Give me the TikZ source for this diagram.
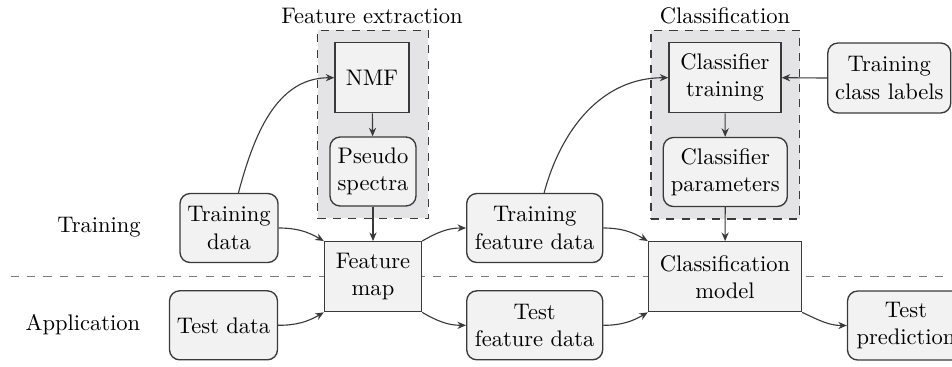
\documentclass[tikz,border=0pt]{standalone}
\usetikzlibrary{arrows.meta,fit,backgrounds}
\newlength\pxu
\setlength\pxu{0.444pt}
\definecolor{nodefill}{HTML}{F2F2F3}
\definecolor{groupfill}{HTML}{E4E4E6}
\definecolor{edgecol}{HTML}{3A3A3A}
\definecolor{sepcol}{HTML}{7A7A7A}
\begin{document}
\begin{tikzpicture}[x={(0.444pt,0)},y={(0,-0.444pt)},
  box/.style={draw=edgecol,fill=nodefill,line width=0.6pt,align=center,inner sep=2pt,font=\fontsize{10}{12}\selectfont},
  rbox/.style={box,rounded corners=4.5pt},
  group/.style={draw=edgecol,fill=groupfill,line width=0.6pt,dash pattern=on 3.6pt off 3.2pt,inner sep=5.2pt},
  arr/.style={draw=edgecol,line width=0.5pt,-{Stealth[length=3.8pt,width=3.2pt]}},
  lbl/.style={font=\fontsize{10}{12}\selectfont}]
\useasboundingbox (0,0) rectangle (952,366);

% nodes
\node[box,minimum width=74\pxu,minimum height=70\pxu] (nmf) at (372,77.7) {NMF};
\node[rbox,minimum width=86\pxu,minimum height=69\pxu] (ps) at (373,171.5) {Pseudo\\spectra};
\node[rbox,minimum width=98\pxu,minimum height=69\pxu] (td) at (229,228) {Training\\data};
\node[rbox,minimum width=108\pxu,minimum height=69\pxu] (tsd) at (223.5,325.3) {Test data};
\node[box,minimum width=97\pxu,minimum height=70\pxu] (fm) at (373,276.7) {Feature\\map};
\node[rbox,minimum width=136\pxu,minimum height=69\pxu] (tfd) at (534.7,228) {Training\\feature data};
\node[rbox,minimum width=136\pxu,minimum height=69\pxu] (sfd) at (534.7,325.3) {Test\\feature data};
\node[box,minimum width=153\pxu,minimum height=70\pxu] (cm) at (725,276.7) {Classification\\model};
\node[rbox,minimum width=117\pxu,minimum height=69\pxu] (tp) at (906,325.5) {Test\\prediction};
\node[rbox,minimum width=124\pxu,minimum height=69\pxu] (cp) at (725.3,172) {Classifier\\parameters};
\node[box,minimum width=112\pxu,minimum height=70\pxu] (ct) at (725,77.7) {Classifier\\training};
\node[rbox,minimum width=123\pxu,minimum height=70\pxu] (tcl) at (889.3,78) {Training\\class labels};

\node[lbl] (lfe) at (372,16) {Feature extraction};
\node[lbl] (lcl) at (725,16) {Classification};
\node[lbl] (ltr) at (99,227) {Training};
\node[lbl] (lap) at (83,325) {Application};

\begin{scope}[on background layer]
  \node[group,fit=(nmf)(ps)] (gfe) {};
  \node[group,fit=(ct)(cp)] (gcl) {};
  \coordinate (sepl) at (11,276.7);
  \coordinate (sepr) at (960,276.7);
  \draw[sepcol,line width=0.7pt,dash pattern=on 3.6pt off 3.6pt] (sepl) -- (sepr);
\end{scope}

% connectors
\draw[arr] (td) to[out=75,in=180] (nmf.west);
\draw[arr] (nmf) -- (ps);
\draw[arr] (ps) -- (fm);
\draw[arr] (td.east) to[out=0,in=150] (fm.north west);
\draw[arr] (tsd.east) to[out=0,in=210] (fm.south west);
\draw[arr] (fm.north east) to[out=30,in=180] (tfd.west);
\draw[arr] (fm.south east) to[out=-30,in=180] (sfd.west);
\draw[arr] (tfd) to[out=75,in=180] (ct.west);
\draw[arr] (tfd.east) to[out=0,in=150] (cm.north west);
\draw[arr] (sfd.east) to[out=0,in=210] (cm.south west);
\draw[arr] (ct) -- (cp);
\draw[arr] (cp) -- (cm);
\draw[arr] (tcl.west) -- (ct.east);
\draw[arr] (cm.south east) to[out=-25,in=180] (tp.west);
\end{tikzpicture}
\end{document}
